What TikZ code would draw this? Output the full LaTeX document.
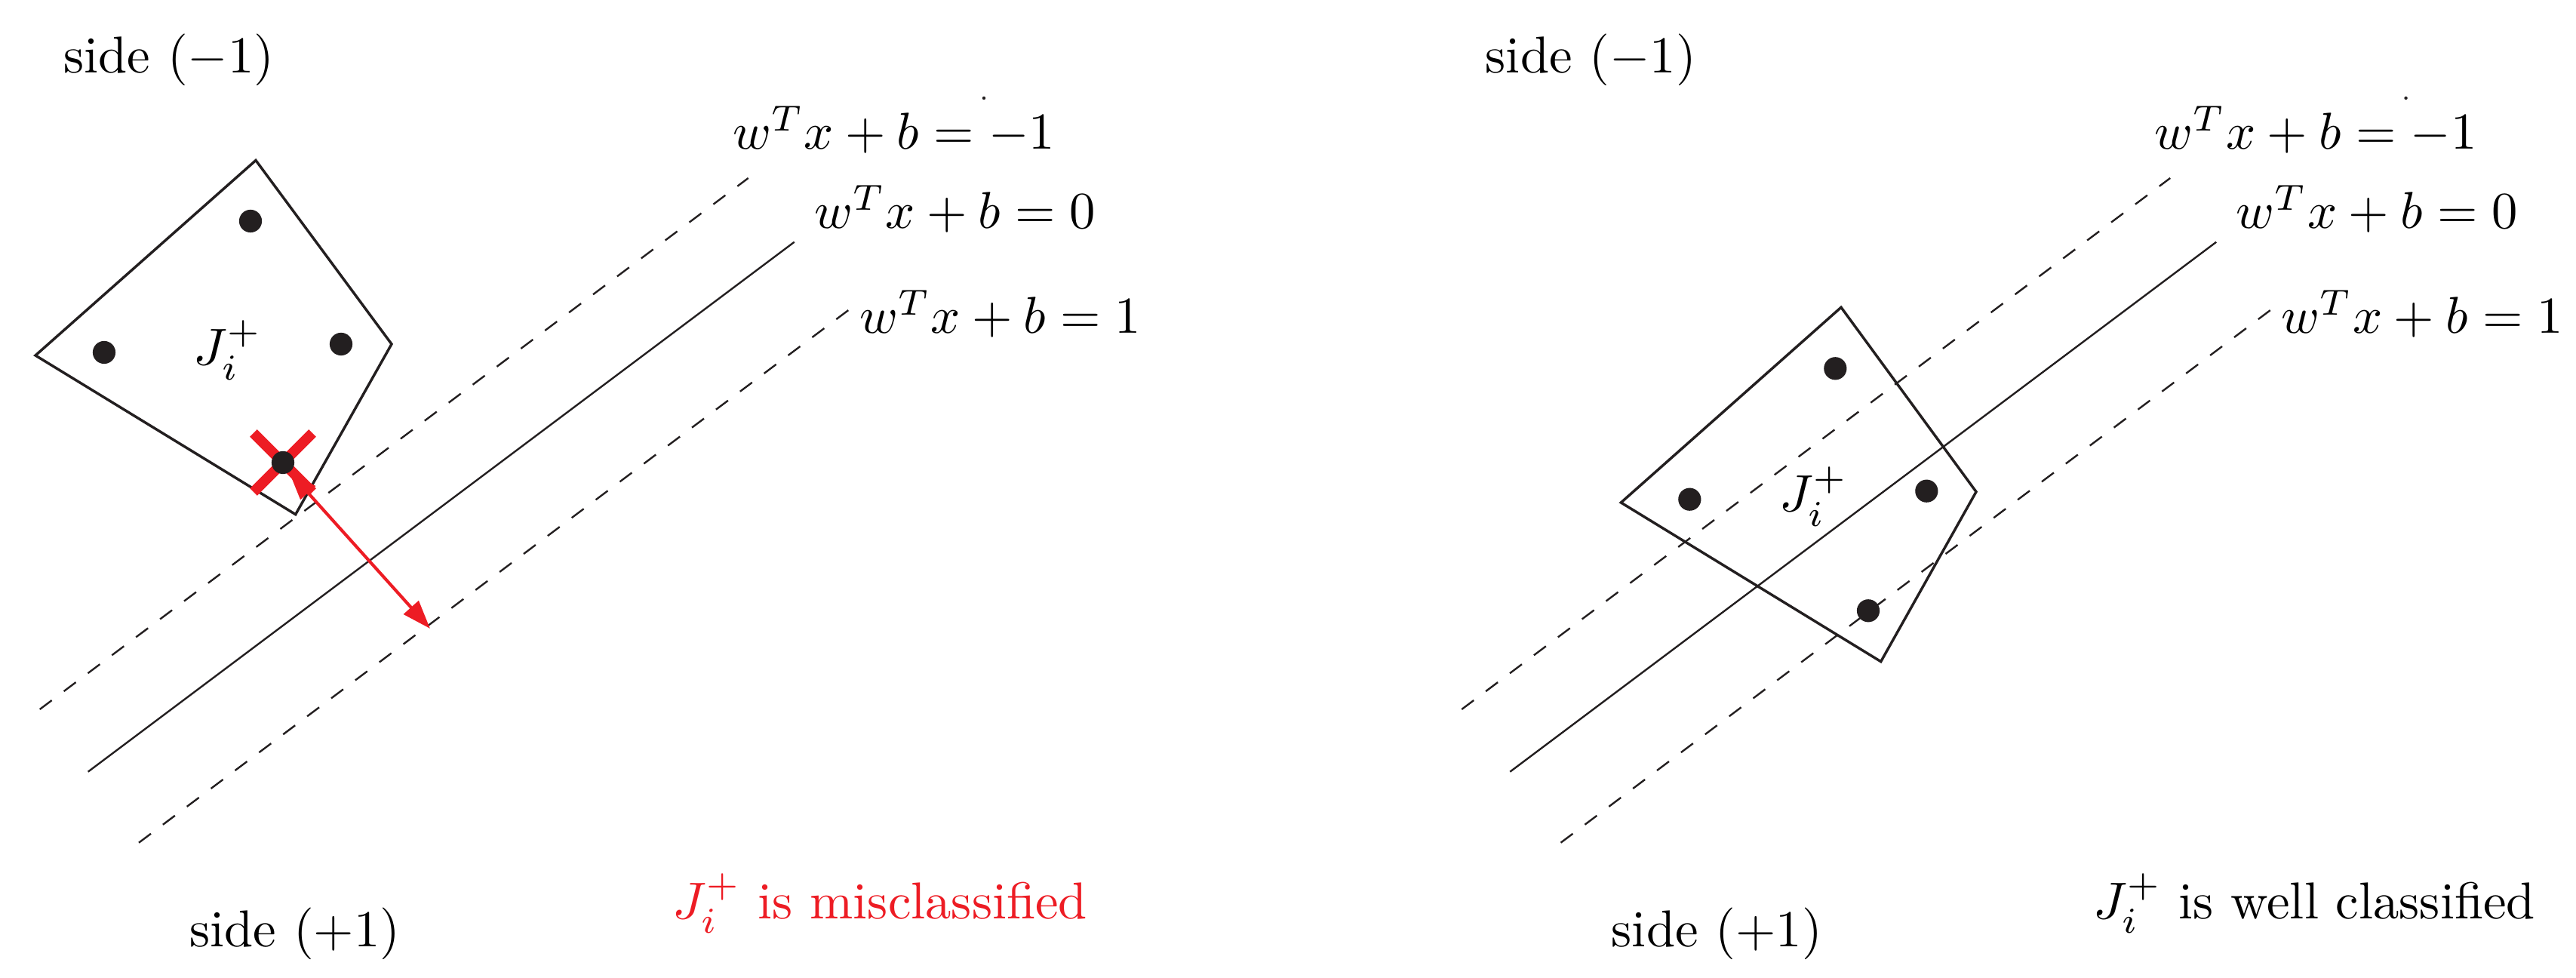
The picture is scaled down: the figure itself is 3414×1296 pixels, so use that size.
\documentclass[tikz,border=0pt]{standalone}
\usetikzlibrary{arrows.meta,calc}
\definecolor{ink}{HTML}{231F20}
\definecolor{alarm}{HTML}{ED1C24}
\begin{document}
\begin{tikzpicture}[x=0.14556pt,y=-0.14556pt,
  hyper/.style={draw=ink,line width=0.35pt},
  margin/.style={hyper,dash pattern=on 2.9pt off 2.9pt},
  hull/.style={draw=ink,line width=0.5pt,line join=miter},
  pt/.style={circle,fill=ink,inner sep=0pt,minimum size=4.4pt},
  lbl/.style={inner sep=0pt,anchor=base west,text=black},
  cross/.style={draw=alarm,line width=2pt},
  push/.style={draw=alarm,line width=0.6pt,{Triangle[length=5.5pt,width=3.8pt]}-{Triangle[length=5.5pt,width=3.8pt]}},
]
\useasboundingbox (0,0) rectangle (3414,1296);
\foreach \dx/\p in {0/L,1884.5/R}{
 \begin{scope}[shift={(\dx,0)}]
  \coordinate (\p-ua) at (52.7,940);   \coordinate (\p-ub) at (991.7,236);
  \coordinate (\p-sa) at (116.7,1022.7); \coordinate (\p-sb) at (1052.7,320.7);
  \coordinate (\p-la) at (184,1116.7);  \coordinate (\p-lb) at (1126.7,409.3);
  \draw[margin] (\p-ua) -- (\p-ub);
  \draw[hyper]  (\p-sa) -- (\p-sb);
  \draw[margin] (\p-la) -- (\p-lb);
  \node[lbl] (\p-eqm) at (970,198) {$w^Tx+b=-1$};
  \node[lbl] (\p-eqz) at (1078,303) {$w^Tx+b=0$};
  \node[lbl] (\p-eqp) at (1138,442) {$w^Tx+b=1$};
  \node[lbl] (\p-neg) at (83,97) {side $(-1)$};
  \node[lbl] (\p-pos) at (250,1254) {side $(+1)$};
  \fill[ink] (1304,130) circle (2.2);
 \end{scope}
}
% left panel: misclassified set
\draw[hull] (47,471) -- (339,212.5) -- (519,456) -- (391.7,681.7) -- cycle;
\node[lbl] (LJ) at (255,484) {$J_i^+$};
\node[pt] (L1) at (332,293) {};
\node[pt] (L2) at (138,467) {};
\node[pt] (L3) at (452,456) {};
\coordinate (L4c) at (375,613);
\coordinate (La) at (383,625);
\coordinate (Lb) at (570,833);
\draw[push] (La) -- (Lb);
\draw[cross] ($(L4c)+(-39,-39)$) -- ($(L4c)+(39,39)$);
\draw[cross] ($(L4c)+(39,-39)$) -- ($(L4c)+(-39,39)$);
\node[pt] (L4) at (L4c) {};
\node[lbl,text=alarm] (Lmsg) at (890,1217) {$J_i^+$ is misclassified};
% right panel: well classified set
\draw[hull] (2148.3,666) -- (2440,407.3) -- (2619,651.7) -- (2492.7,876.7) -- cycle;
\node[lbl] (RJ) at (2357,678) {$J_i^+$};
\node[pt] (R1) at (2432.3,488.3) {};
\node[pt] (R2) at (2239.3,661.7) {};
\node[pt] (R3) at (2553.3,650.7) {};
\node[pt] (R4) at (2476,809.3) {};
\node[lbl] (Rmsg) at (2773,1217) {$J_i^+$ is well classified};
\end{tikzpicture}
\end{document}
